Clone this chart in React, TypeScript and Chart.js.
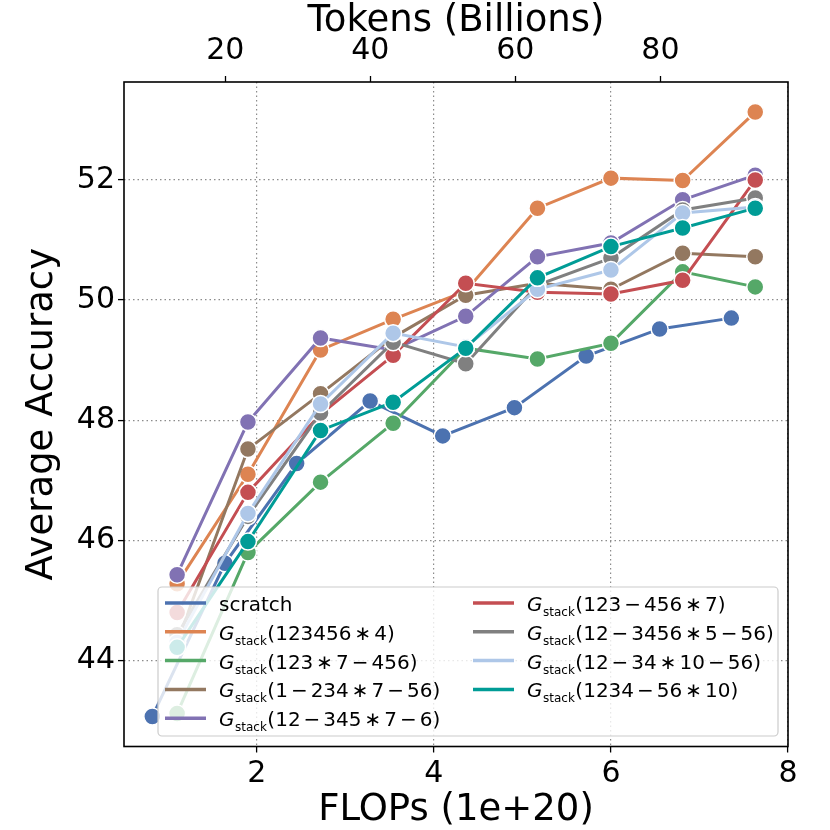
import React, { useEffect, useRef } from 'react';
import { Chart, registerables } from 'chart.js';

Chart.register(...registerables);

// FLOPs (1e+20) at which each run was evaluated
const scratchFlops = [0.82, 1.64, 2.45, 3.28, 4.1, 4.91, 5.72, 6.55, 7.36];
const stackFlops = [1.1, 1.9, 2.72, 3.54, 4.36, 5.17, 6.0, 6.81, 7.63];

const seriesLabels = [
  'scratch',
  'G_stack(123456 ∗ 4)',
  'G_stack(123 ∗ 7 − 456)',
  'G_stack(1 − 234 ∗ 7 − 56)',
  'G_stack(12 − 345 ∗ 7 − 6)',
  'G_stack(123 − 456 ∗ 7)',
  'G_stack(12 − 3456 ∗ 5 − 56)',
  'G_stack(12 − 34 ∗ 10 − 56)',
  'G_stack(1234 − 56 ∗ 10)',
];
const seriesColors = [
  '#4c72b0', '#dd8452', '#55a868', '#937860', '#8172b3',
  '#c44e52', '#808080', '#aec7e8', '#009c96',
];

// average accuracy
const scratchAcc = [43.07, 45.62, 47.28, 48.32, 47.74, 48.21, 49.07, 49.52, 49.7];
const stack123456x4 = [45.28, 47.1, 49.17, 49.68, 50.15, 51.53, 52.03, 51.99, 53.13];
const stack123x7_456 = [43.12, 45.8, 46.97, 47.95, 49.2, 49.02, 49.28, 50.47, 50.22];
const stack1_234x7_56 = [44.3, 47.52, 48.44, 49.38, 50.08, 50.28, 50.18, 50.78, 50.72];
const stack12_345x7_6 = [45.43, 47.97, 49.37, 49.17, 49.73, 50.72, 50.95, 51.67, 52.08];
const stack123_456x7 = [44.8, 46.8, 48.1, 49.08, 50.28, 50.13, 50.1, 50.33, 52.0];
const stack12_3456x5_56 = [44.43, 46.4, 48.12, 49.3, 48.94, 50.25, 50.7, 51.5, 51.7];
const stack12_34x10_56 = [44.3, 46.45, 48.27, 49.45, 49.22, 50.18, 50.5, 51.45, 51.55];
const stack1234_56x10 = [44.22, 45.98, 47.83, 48.3, 49.2, 50.37, 50.89, 51.2, 51.53];

const flopTicks = [2, 4, 6, 8];
const tokenTicks = [20, 40, 60, 80];
const accTicks = [44, 46, 48, 50, 52];

const FONT = '"DejaVu Sans", sans-serif';

const legendPlugin = {
  id: 'twoColLegend',
  afterDatasetsDraw(chart: any) {
    const { ctx, chartArea } = chart;
    const left = chartArea.left + 34;
    const top = chartArea.bottom - 159.5;
    ctx.save();
    ctx.beginPath();
    ctx.roundRect(left, top, 620, 149, 4);
    ctx.fillStyle = 'rgba(255,255,255,0.8)';
    ctx.fill();
    ctx.strokeStyle = '#cccccc';
    ctx.lineWidth = 1.2;
    ctx.stroke();
    chart.data.datasets.forEach((ds: any, i: number) => {
      const col = i < 5 ? 0 : 1;
      const row = i < 5 ? i : i - 5;
      const hx = left + (col === 0 ? 7 : 315);
      const cy = top + 16 + row * 28.8;
      ctx.strokeStyle = ds.borderColor;
      ctx.lineWidth = 3.5;
      ctx.beginPath();
      ctx.moveTo(hx, cy);
      ctx.lineTo(hx + 41, cy);
      ctx.stroke();

      let tx = hx + 54;
      const base = cy + 8;
      ctx.fillStyle = '#000';
      ctx.textBaseline = 'alphabetic';
      ctx.textAlign = 'left';
      const label: string = ds.label;
      if (label.startsWith('G_stack')) {
        ctx.font = `italic 20px ${FONT}`;
        ctx.fillText('G', tx, base);
        tx += ctx.measureText('G').width + 0.5;
        ctx.font = `12px ${FONT}`;
        ctx.fillText('stack', tx, base + 5);
        tx += ctx.measureText('stack').width + 0.5;
        ctx.font = `20px ${FONT}`;
        // math-style tight spacing around the binary operators
        const parts = label.slice(7).split(' ');
        parts.forEach((p, k) => {
          ctx.fillText(p, tx, base);
          tx += ctx.measureText(p).width + (k < parts.length - 1 ? 3 : 0);
        });
      } else {
        ctx.font = `20px ${FONT}`;
        ctx.fillText(label, tx, base);
      }
    });
    ctx.restore();
  },
};

const framePlugin = {
  id: 'frame',
  afterDraw(chart: any) {
    const { ctx, chartArea } = chart;
    ctx.save();
    ctx.strokeStyle = '#000';
    ctx.lineWidth = 1.6;
    ctx.strokeRect(chartArea.left, chartArea.top, chartArea.right - chartArea.left, chartArea.bottom - chartArea.top);
    ctx.restore();
  },
};

const App: React.FC = () => {
  const canvasRef = useRef<HTMLCanvasElement | null>(null);
  const chartRef = useRef<Chart | null>(null);

  useEffect(() => {
    if (!canvasRef.current) return;
    Chart.defaults.font.family = FONT;
    Chart.defaults.color = '#000';

    const stackSeries = [
      stack123456x4, stack123x7_456, stack1_234x7_56, stack12_345x7_6,
      stack123_456x7, stack12_3456x5_56, stack12_34x10_56, stack1234_56x10,
    ];
    const allSeries = [scratchAcc, ...stackSeries];

    const datasets = allSeries.map((acc, i) => {
      const xs = i === 0 ? scratchFlops : stackFlops;
      return {
        label: seriesLabels[i],
        data: acc.map((y, j) => ({ x: xs[j], y })),
        borderColor: seriesColors[i],
        backgroundColor: seriesColors[i],
        pointBackgroundColor: seriesColors[i],
        pointBorderColor: '#ffffff',
        pointBorderWidth: 1.5,
        pointRadius: 8.5,
        borderWidth: 3,
        tension: 0,
        order: allSeries.length - i, // later series on top, like matplotlib
        xAxisID: 'x',
        yAxisID: 'y',
      };
    });

    const gridDash = [1.5, 3];

    chartRef.current = new Chart(canvasRef.current, {
      type: 'line',
      data: { datasets },
      options: {
        animation: false,
        responsive: false,
        layout: { padding: { left: 0, right: 42, top: 0, bottom: 0 } },
        plugins: { legend: { display: false }, tooltip: { enabled: false } },
        scales: {
          x: {
            type: 'linear',
            position: 'bottom',
            min: 0.5,
            max: 8.0,
            afterBuildTicks: (s: any) => { s.ticks = flopTicks.map((v) => ({ value: v })); },
            afterFit: (s: any) => { s.height = 83.5; },
            ticks: { font: { size: 30 }, color: '#000', padding: 4, maxRotation: 0, autoSkip: false },
            grid: { color: '#8c8c8c', lineWidth: 1.2, tickColor: '#000', tickLength: 6, tickWidth: 1.3 },
            border: { display: false, dash: gridDash },
            title: {
              display: true,
              text: 'FLOPs (1e+20)',
              color: '#000',
              font: { size: 37, lineHeight: 1 },
              padding: { top: 0, bottom: 1.5 },
            },
          },
          x2: {
            type: 'linear',
            position: 'top',
            min: 6.03,
            max: 97.6,
            afterBuildTicks: (s: any) => { s.ticks = tokenTicks.map((v) => ({ value: v })); },
            afterFit: (s: any) => { s.height = 82; },
            ticks: { font: { size: 30 }, color: '#000', padding: 7, maxRotation: 0, autoSkip: false },
            grid: { drawOnChartArea: false, tickColor: '#000', tickLength: 6, tickWidth: 1.3 },
            border: { display: false },
            title: {
              display: true,
              text: 'Tokens (Billions)',
              color: '#000',
              font: { size: 37, lineHeight: 1 },
              padding: { top: 3, bottom: 0 },
            },
          },
          y: {
            type: 'linear',
            position: 'left',
            min: 42.57,
            max: 53.63,
            afterBuildTicks: (s: any) => { s.ticks = accTicks.map((v) => ({ value: v })); },
            afterFit: (s: any) => { s.width = 124; },
            ticks: { font: { size: 30 }, color: '#000', padding: 3, autoSkip: false },
            grid: { color: '#8c8c8c', lineWidth: 1.2, tickColor: '#000', tickLength: 6, tickWidth: 1.3 },
            border: { display: false, dash: gridDash },
            title: {
              display: true,
              text: 'Average Accuracy',
              color: '#000',
              font: { size: 37, lineHeight: 1 },
              padding: { top: 24, bottom: 0 },
            },
          },
        },
      },
      plugins: [legendPlugin, framePlugin],
    } as any);

    return () => {
      if (chartRef.current) {
        chartRef.current.destroy();
        chartRef.current = null;
      }
    };
  }, []);

  return (
    <div style={{ position: 'absolute', left: 0, top: 0, width: 830, height: 830, background: '#fff' }}>
      <canvas ref={canvasRef} width={830} height={830} style={{ width: 830, height: 830 }} />
    </div>
  );
};

export default App;
